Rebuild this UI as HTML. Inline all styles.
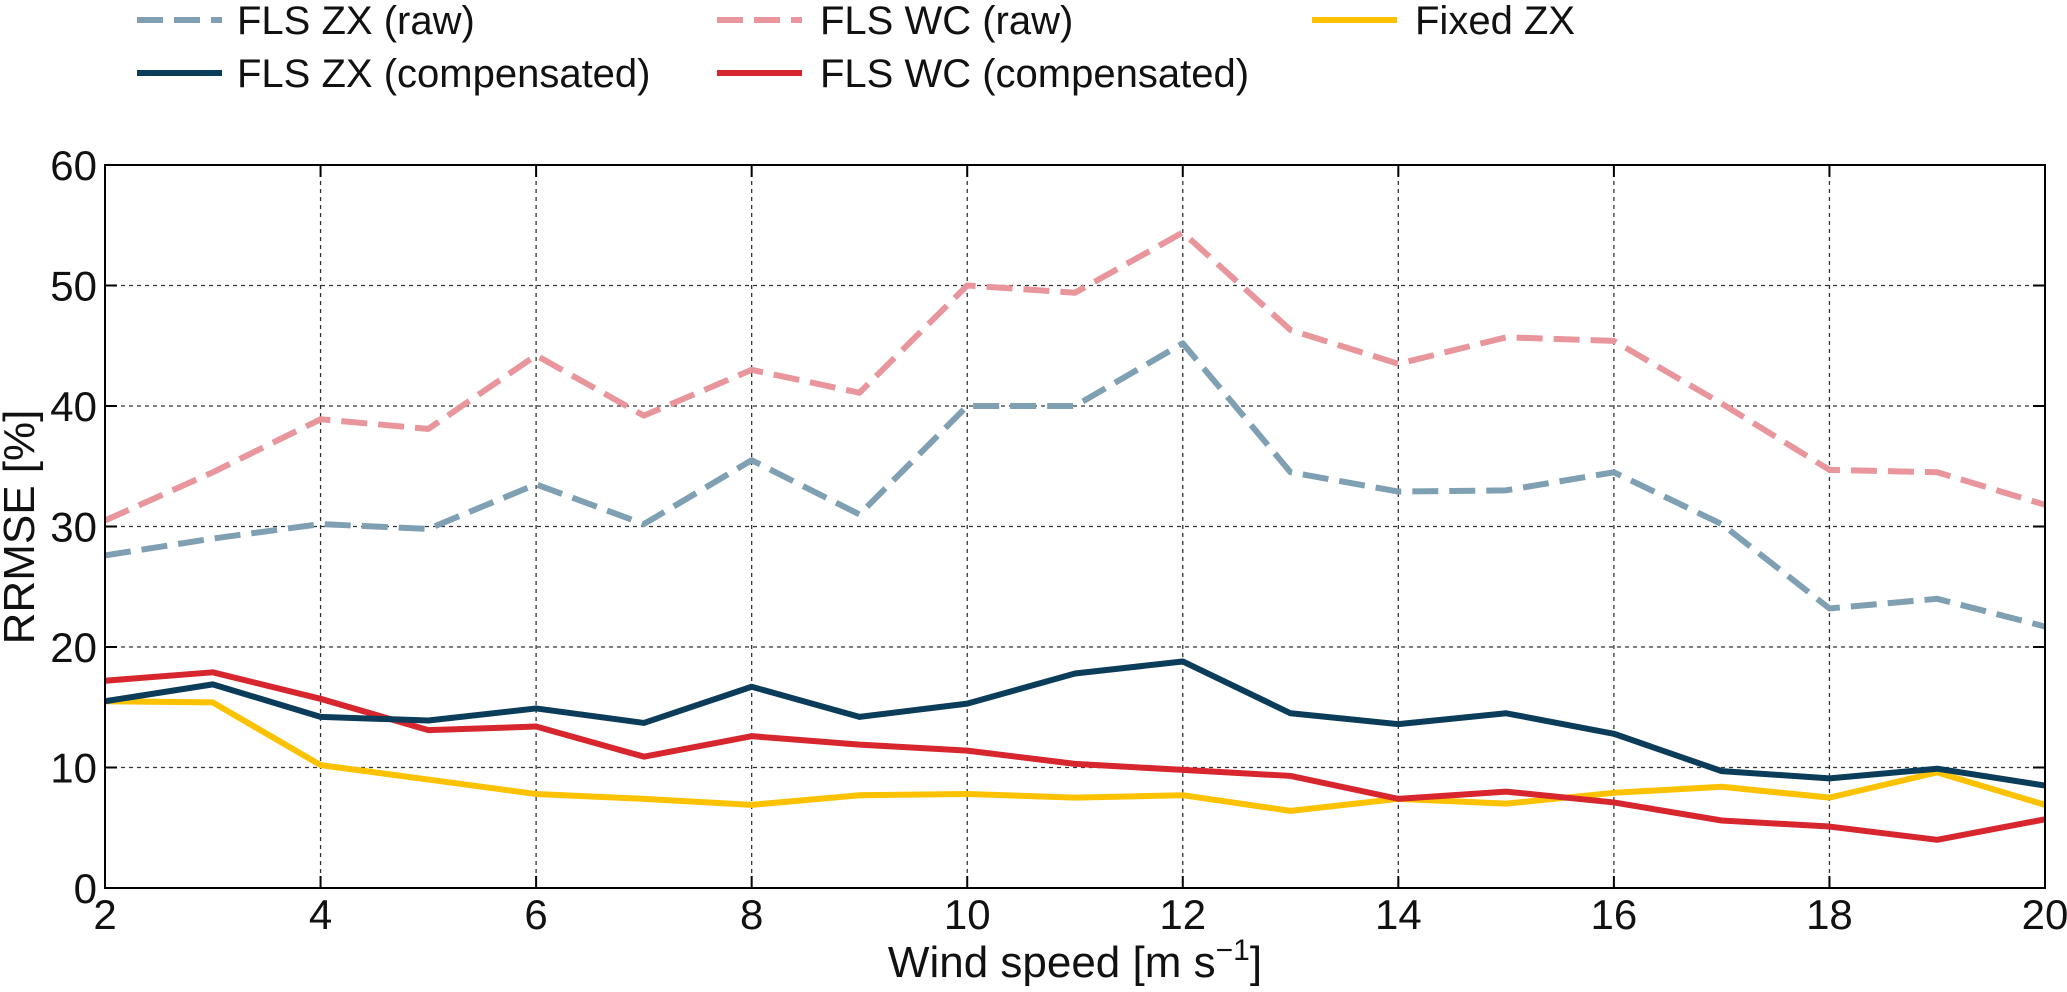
<!DOCTYPE html>
<html><head><meta charset="utf-8"><style>body{margin:0;background:#fff}svg{display:block}text{font-family:"Liberation Sans",sans-serif;fill:#111}</style></head>
<body>
<svg id="c" width="2067" height="992">
<text x="1075" y="977" text-anchor="middle" font-size="44">Wind speed [m s<tspan dy="-17" font-size="30">−1</tspan><tspan dy="17">]</tspan></text>
<text transform="translate(34,527) rotate(-90)" text-anchor="middle" font-size="44">RRMSE [%]</text>
<g font-size="40">
<line x1="137" x2="222" y1="20" y2="20" stroke="#7ea0b2" stroke-width="6" stroke-dasharray="26,11"/><text x="237" y="34">FLS ZX (raw)</text>
<line x1="137" x2="222" y1="73" y2="73" stroke="#0b3d5a" stroke-width="6"/><text x="237" y="87">FLS ZX (compensated)</text>
<line x1="717" x2="802" y1="20" y2="20" stroke="#e8959b" stroke-width="6" stroke-dasharray="26,11"/><text x="820" y="34">FLS WC (raw)</text>
<line x1="717" x2="802" y1="73" y2="73" stroke="#d7262e" stroke-width="6"/><text x="820" y="87">FLS WC (compensated)</text>
<line x1="1312" x2="1397" y1="20" y2="20" stroke="#fcc200" stroke-width="6"/><text x="1415" y="34">Fixed ZX</text>
</g>
</svg>
<script>
const windSpeeds=[2,3,4,5,6,7,8,9,10,11,12,13,14,15,16,17,18,19,20];
const zxRaw=[27.6,29,30.2,29.8,33.5,30.2,35.5,31,40,40,45.2,34.5,32.9,33,34.5,30.2,23.2,24,21.7];
const wcRaw=[30.5,34.5,38.9,38.1,44.2,39.2,43,41.1,50,49.4,54.4,46.3,43.5,45.7,45.4,40.2,34.7,34.5,31.8];
const zxComp=[15.5,16.9,14.2,13.9,14.9,13.7,16.7,14.2,15.3,17.8,18.8,14.5,13.6,14.5,12.8,9.7,9.1,9.9,8.5];
const wcComp=[17.2,17.9,15.7,13.1,13.4,10.9,12.6,11.9,11.4,10.3,9.8,9.3,7.4,8.0,7.1,5.6,5.1,4.0,5.7];
const fixedZx=[15.5,15.4,10.2,9.0,7.8,7.4,6.9,7.7,7.8,7.5,7.7,6.4,7.4,7.0,7.9,8.4,7.5,9.6,6.9];
const xTicks=[2,4,6,8,10,12,14,16,18,20];
const yTicks=[0,10,20,30,40,50,60];
const L=105,R=2045,T=165,B=888;
const sx=v=>L+(v-2)/18*(R-L), sy=v=>B-v/60*(B-T);
const svg=document.getElementById('c');const NS='http://www.w3.org/2000/svg';
function mk(t,a){const e=document.createElementNS(NS,t);for(const k in a)e.setAttribute(k,a[k]);svg.appendChild(e);return e;}
xTicks.forEach(v=>{if(v>2&&v<20){const g=mk('line',{x1:sx(v),x2:sx(v),y1:T,y2:B,stroke:'#333','stroke-width':1.3,'stroke-dasharray':'4,4'});

}});
yTicks.forEach(v=>{if(v>0&&v<60){const g=mk('line',{x1:L,x2:R,y1:sy(v),y2:sy(v),stroke:'#333','stroke-width':1.3,'stroke-dasharray':'4,4'});

}});
const series=[
 {d:zxRaw,c:'#7ea0b2',dash:'26,11',n:'fls-zx-raw-line'},
 {d:wcRaw,c:'#e8959b',dash:'26,11',n:'fls-wc-raw-line'},
 {d:fixedZx,c:'#fcc200',dash:'',n:'fixed-zx-line'},
 {d:wcComp,c:'#d7262e',dash:'',n:'fls-wc-compensated-line'},
 {d:zxComp,c:'#0b3d5a',dash:'',n:'fls-zx-compensated-line'}];
series.forEach(s=>{const p=mk('polyline',{points:s.d.map((v,i)=>sx(windSpeeds[i])+','+sy(v)).join(' '),fill:'none',stroke:s.c,'stroke-width':6,'stroke-dasharray':s.dash,'stroke-linejoin':'round'});

});
const f=mk('rect',{x:L,y:T,width:R-L,height:B-T,fill:'none',stroke:'#000','stroke-width':2});


xTicks.forEach(v=>{mk('line',{x1:sx(v),x2:sx(v),y1:B,y2:B-12,stroke:'#000','stroke-width':2});mk('line',{x1:sx(v),x2:sx(v),y1:T,y2:T+12,stroke:'#000','stroke-width':2});
const t=mk('text',{x:sx(v),y:B+41,'text-anchor':'middle','font-size':42});t.textContent=v;

});
yTicks.forEach(v=>{mk('line',{x1:L,x2:L+12,y1:sy(v),y2:sy(v),stroke:'#000','stroke-width':2});mk('line',{x1:R,x2:R-12,y1:sy(v),y2:sy(v),stroke:'#000','stroke-width':2});
const t=mk('text',{x:L-8,y:sy(v)+15,'text-anchor':'end','font-size':42});t.textContent=v;

});
</script>
</body></html>
